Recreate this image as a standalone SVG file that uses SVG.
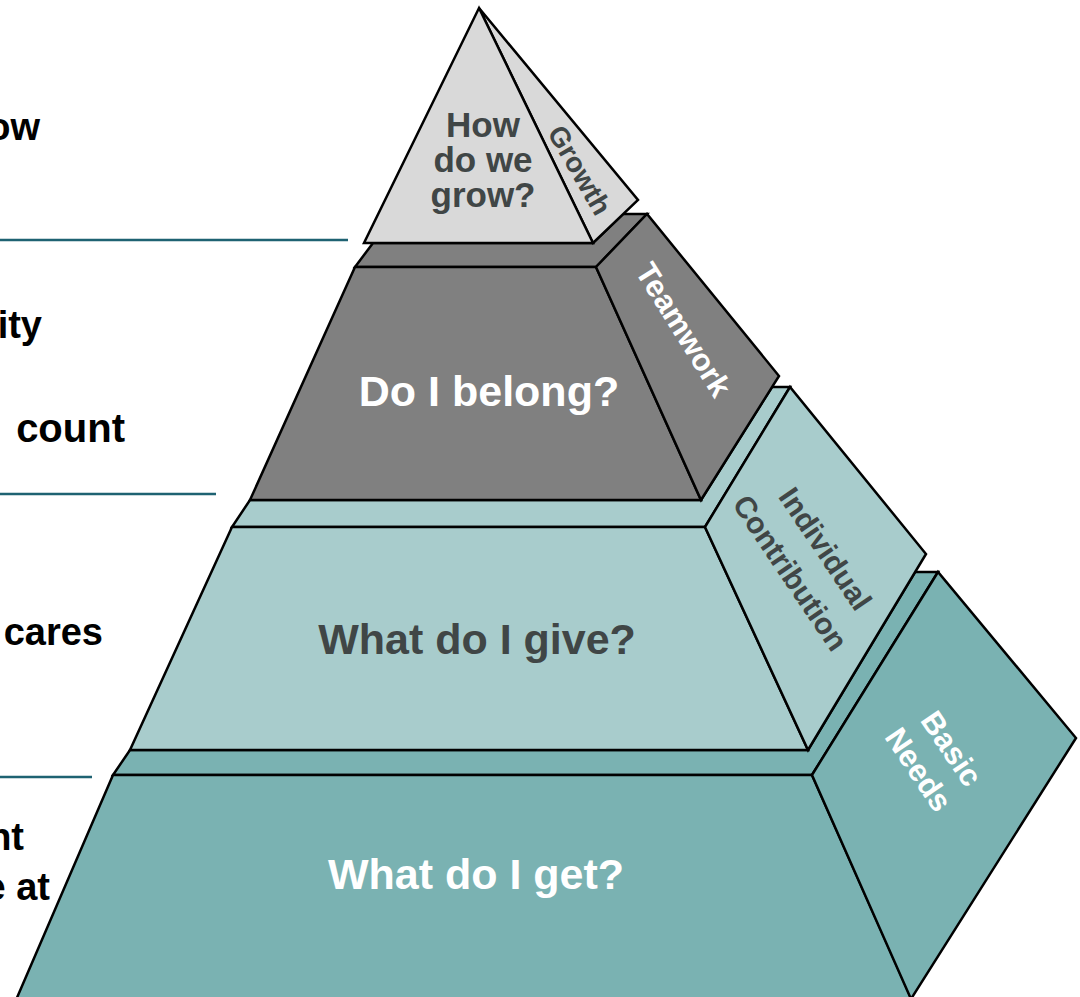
<svg xmlns="http://www.w3.org/2000/svg" width="1080" height="997" viewBox="0 0 1080 997">
  <style>
    .face { stroke: #000; stroke-width: 2.5; stroke-linejoin: miter; }
    .gray-light { fill: #D9D9D9; }
    .gray-dark { fill: #808080; }
    .teal-light { fill: #A8CCCC; }
    .teal { fill: #7AB2B2; }
    .lbl { font-family: "Liberation Sans", Arial, Helvetica, sans-serif; font-weight: bold; }
    .dark { fill: #404646; }
    .white { fill: #FFFFFF; }
    .side-text { fill: #000; font-size: 38px; text-anchor: end; }
    .rule { stroke: #1E6272; stroke-width: 2.5; fill: none; }
  </style>

  <rect width="1080" height="997" fill="#FFFFFF"/>

  <!-- separator rules on the left -->
  <g id="connectors">
    <line class="rule" x1="0" y1="240" x2="348" y2="240"/>
    <line class="rule" x1="0" y1="494" x2="216" y2="494"/>
    <line class="rule" x1="0" y1="777" x2="92" y2="777"/>
  </g>

  <!-- left-hand statements (run off the left edge) -->
  <g id="statements" class="lbl side-text">
    <text x="40" y="140">ow</text>
    <text x="42" y="338">ity</text>
    <text x="125" y="442" font-size="40">count</text>
    <text x="103" y="645">cares</text>
    <text x="24" y="850">nt</text>
    <text x="50" y="900">e at</text>
  </g>

  <!-- tier 4: Basic Needs -->
  <g id="tier-basic-needs">
    <polygon class="face teal" points="130,750 808,750 915,572 938,572 812,775 113,775"/>
    <polygon class="face teal" points="113,775 812,775 912,1000 16,1000"/>
    <polygon class="face teal" points="812,775 938,572 1076,738 911,999"/>
    <text class="lbl white" x="476" y="889" font-size="43" text-anchor="middle">What do I get?</text>
    <g class="lbl white" font-size="31" text-anchor="middle">
      <text transform="translate(951,749) rotate(56)" y="10">Basic</text>
      <text transform="translate(918,770) rotate(56)" y="10">Needs</text>
    </g>
  </g>

  <!-- tier 3: Individual Contribution -->
  <g id="tier-individual-contribution">
    <polygon class="face teal-light" points="250,500 701,500 772,387 790,387 705,527 232,527"/>
    <polygon class="face teal-light" points="232,527 705,527 808,750 130,750"/>
    <polygon class="face teal-light" points="705,527 790,387 926,554 808,750"/>
    <text class="lbl dark" x="477" y="654" font-size="43" text-anchor="middle">What do I give?</text>
    <g class="lbl dark" font-size="30" text-anchor="middle">
      <text transform="translate(825,549) rotate(56)" y="10">Individual</text>
      <text transform="translate(790,573) rotate(56)" y="10">Contribution</text>
    </g>
  </g>

  <!-- tier 2: Teamwork -->
  <g id="tier-teamwork">
    <polygon class="face gray-dark" points="355,267 373,243 593,243 623,214 647,214 596,267"/>
    <polygon class="face gray-dark" points="355,267 596,267 701,500 250,500"/>
    <polygon class="face gray-dark" points="596,267 647,214 779,376 701,500"/>
    <text class="lbl white" x="489" y="406" font-size="43" text-anchor="middle">Do I belong?</text>
    <text class="lbl white" transform="translate(683,330) rotate(58)" y="10" font-size="31" text-anchor="middle">Teamwork</text>
  </g>

  <!-- tier 1: Growth -->
  <g id="tier-growth">
    <polygon class="face gray-light" points="479,8 638,200 593,243"/>
    <polygon class="face gray-light" points="479,8 593,243 364,243"/>
    <g class="lbl dark" font-size="35" text-anchor="middle">
      <text x="483" y="137">How</text>
      <text x="483" y="172">do we</text>
      <text x="483" y="207">grow?</text>
    </g>
    <text class="lbl dark" transform="translate(580,170) rotate(60)" y="10" font-size="28" text-anchor="middle">Growth</text>
  </g>
</svg>
